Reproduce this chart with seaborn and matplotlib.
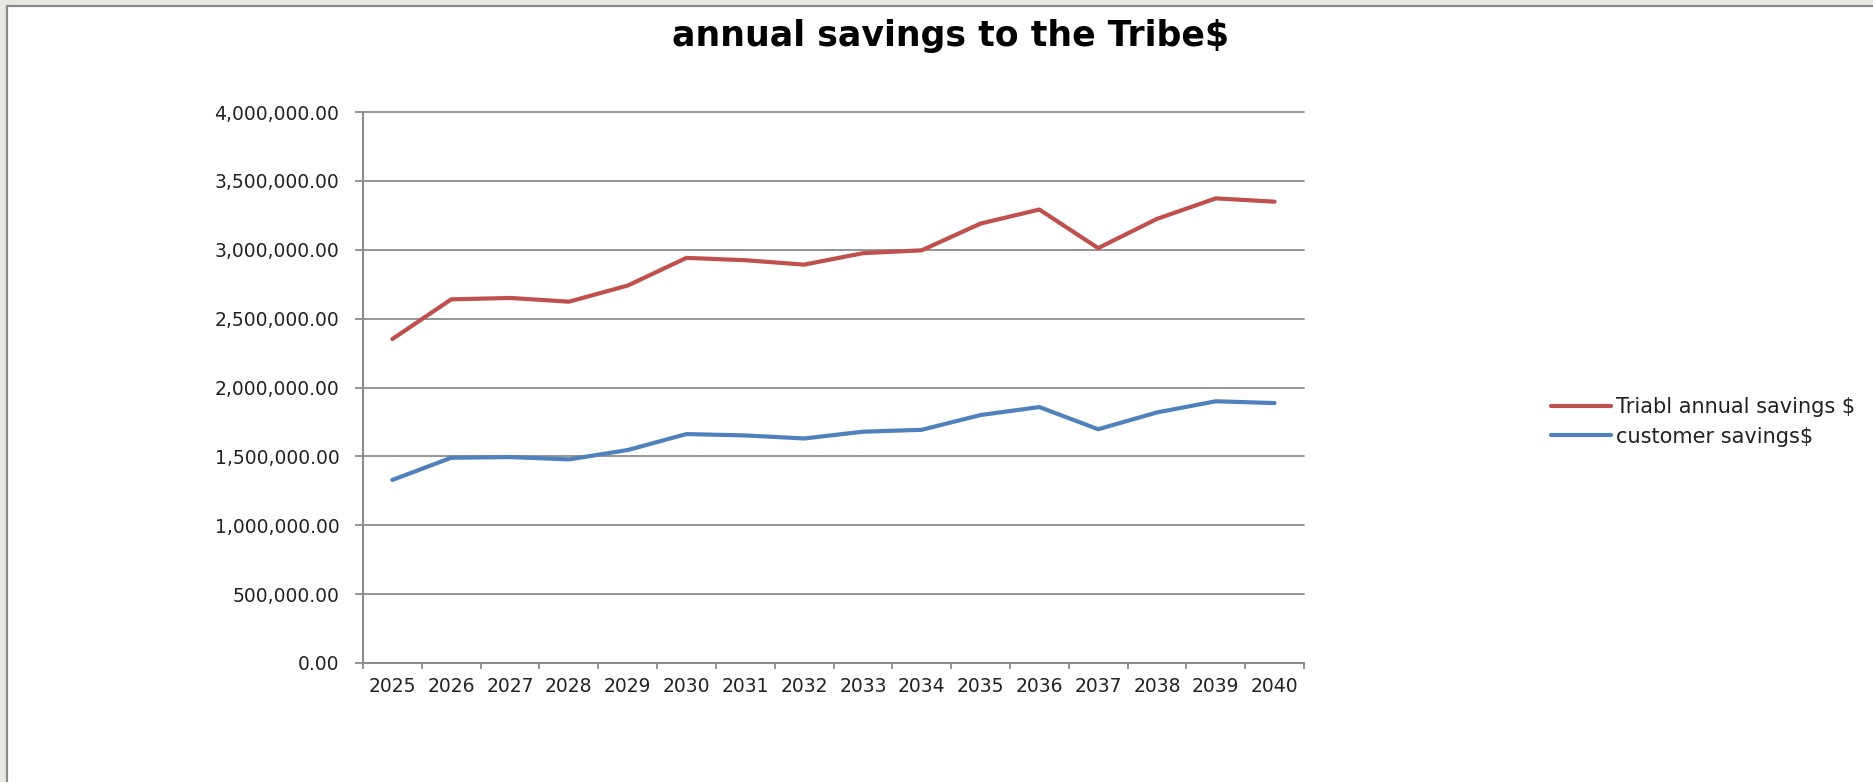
import matplotlib
matplotlib.use("Agg")
import matplotlib.pyplot as plt
import matplotlib.patches as mpatches
from matplotlib.ticker import FuncFormatter, FixedLocator
import seaborn as sns
import pandas as pd

# ---- data ----
years = ["2025", "2026", "2027", "2028", "2029", "2030", "2031", "2032",
         "2033", "2034", "2035", "2036", "2037", "2038", "2039", "2040"]
triabl_savings = [2352000, 2640000, 2650000, 2623000, 2740000, 2941000, 2924000, 2892000,
                  2975000, 2996000, 3190000, 3292000, 3012000, 3224000, 3373000, 3349000]
customer_savings = [1329000, 1490000, 1495000, 1478000, 1546000, 1662000, 1652000, 1630000,
                    1679000, 1693000, 1800000, 1858000, 1697000, 1819000, 1900000, 1887000]
series_names = ["Triabl annual savings $", "customer savings$"]
title_text = "annual savings to the Tribe$"

df = pd.DataFrame({
    "year": years * 2,
    "value": triabl_savings + customer_savings,
    "series": [series_names[0]] * len(years) + [series_names[1]] * len(years),
})

sns.set_style("white")
plt.rcParams["font.family"] = ["DejaVu Sans"]

W, H = 1873, 782
fig = plt.figure(figsize=(W / 100, H / 100), dpi=100)
fig.patch.set_facecolor("#e9e7e2")

# white chart area with border (left & top visible)
rect = mpatches.Rectangle((7 / W, -0.05), 1.1, 1 - 6 / H + 0.05, transform=fig.transFigure,
                          facecolor="white", edgecolor="#8a8a8a", linewidth=1.6, zorder=-10)
fig.patches.append(rect)

left, right, top, bottom = 363, 1304, 112, 663
ax = fig.add_axes([left / W, 1 - bottom / H, (right - left) / W, (bottom - top) / H])
ax.set_facecolor("none")
ax.set_zorder(5)

palette = {series_names[0]: "#C0504D", series_names[1]: "#4F81BD"}
sns.lineplot(data=df, x="year", y="value", hue="series", palette=palette,
             linewidth=3.0, sort=False, ax=ax, legend=True)

ax.set_xlim(-0.5, len(years) - 0.5)
ax.set_ylim(0, 4000000)
ax.set_yticks([i * 500000 for i in range(9)])
ax.yaxis.set_major_formatter(FuncFormatter(lambda v, p: f"{v:,.2f}"))
ax.set_xlabel("")
ax.set_ylabel("")

ax.grid(axis="y", color="#8c8c8c", linewidth=1.3)
ax.grid(axis="x", visible=False)
ax.set_axisbelow(True)
for gl in ax.get_ygridlines():
    gl.set_clip_on(False)
for s in ["top", "right"]:
    ax.spines[s].set_visible(False)
for s in ["left", "bottom"]:
    ax.spines[s].set_color("#8c8c8c")
    ax.spines[s].set_linewidth(1.5)

ax.tick_params(axis="y", direction="out", length=6, width=1.3, color="#8c8c8c",
               pad=11, labelsize=13.5, labelcolor="#222222", left=True)
ax.tick_params(axis="x", which="major", length=0, pad=10, labelsize=13.5,
               labelcolor="#222222")
ax.xaxis.set_minor_locator(FixedLocator([i - 0.5 for i in range(len(years) + 1)]))
ax.tick_params(axis="x", which="minor", direction="out", length=4, width=1.3,
               color="#8c8c8c", bottom=True)

leg = ax.legend(loc="center left", bbox_to_anchor=(1551 / W, 1 - 422 / H),
                bbox_transform=fig.transFigure, frameon=False, fontsize=15,
                handlelength=2.9, handletextpad=0.2, labelspacing=0.45,
                borderpad=0, borderaxespad=0)
for t in leg.get_texts():
    t.set_color("#222222")

fig.text(951 / W, 1 - 36 / H, title_text, ha="center", va="center",
         fontsize=25, fontweight="bold", color="black")

fig.savefig("out.png", dpi=100, facecolor=fig.get_facecolor())
